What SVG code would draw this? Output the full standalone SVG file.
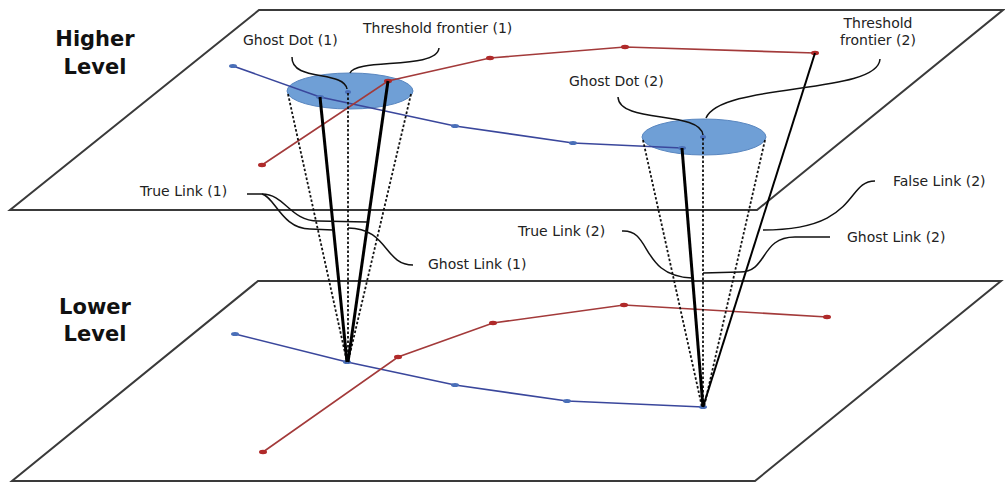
<svg xmlns="http://www.w3.org/2000/svg" width="1005" height="487" viewBox="0 0 1005 487">
<style>
.plane{fill:none;stroke:#3a3a3a;stroke-width:2;stroke-linejoin:miter}
.blue{fill:none;stroke:#3a479c;stroke-width:1.6}
.red{fill:none;stroke:#a33a3a;stroke-width:1.6}
.bdot{fill:#4a6fb8}
.rdot{fill:#b02a2a}
.thick{stroke:#000;stroke-width:3;fill:none}
.thin{stroke:#000;stroke-width:2;fill:none}
.dot{stroke:#111;stroke-width:1.8;stroke-dasharray:2.5 2;fill:none}
.lead{stroke:#111;stroke-width:1.5;fill:none}
.zone{fill:#6f9fd6;stroke:#5a87c0;stroke-width:1}
.lbl{font-family:"DejaVu Sans","Liberation Sans",sans-serif;font-size:14px;fill:#222}
.lvl{font-family:"DejaVu Sans","Liberation Sans",sans-serif;font-size:21px;font-weight:bold;fill:#111;text-anchor:middle}
</style>
<rect width="1005" height="487" fill="#fff"/>
<g id="higher-plane">
<polygon class="plane" points="259,10 1003,10 757,210 10,210"/>
<text class="lvl" x="95" y="46">Higher</text>
<text class="lvl" x="95" y="74">Level</text>
</g>
<g id="lower-plane">
<polygon class="plane" points="258,281 1001,281 755,481 12,481"/>
<text class="lvl" x="95" y="314">Lower</text>
<text class="lvl" x="95" y="341">Level</text>
</g>
<g id="threshold-1">
<ellipse class="zone" cx="350" cy="91" rx="63" ry="18"/>
</g>
<g id="threshold-2">
<ellipse class="zone" cx="704" cy="137" rx="62" ry="18"/>
</g>
<g id="higher-network">
<polyline class="blue" points="233,66 320,97 455,126 573,143 682,148"/>
<polyline class="red" points="262,165 388,81 490,58 625,47 815,53"/>
<ellipse class="bdot" cx="233" cy="66" rx="4" ry="2"/>
<ellipse class="bdot" cx="320" cy="97" rx="4" ry="2"/>
<ellipse class="bdot" cx="455" cy="126" rx="4" ry="2"/>
<ellipse class="bdot" cx="573" cy="143" rx="4" ry="2"/>
<ellipse class="bdot" cx="682" cy="148" rx="4" ry="2"/>
<ellipse class="rdot" cx="262" cy="165" rx="4" ry="2.2"/>
<ellipse class="rdot" cx="388" cy="81" rx="4" ry="2.2"/>
<ellipse class="rdot" cx="490" cy="58" rx="4" ry="2.2"/>
<ellipse class="rdot" cx="625" cy="47" rx="4" ry="2.2"/>
<ellipse class="rdot" cx="815" cy="53" rx="4" ry="2.2"/>
<ellipse class="bdot" cx="348" cy="92" rx="3" ry="2"/>
<ellipse class="bdot" cx="703" cy="137" rx="3" ry="2"/>
</g>
<g id="lower-network">
<polyline class="blue" points="235,334 347,362 455,385 567,401 703,407"/>
<polyline class="red" points="263,452 398,357 493,323 624,305 827,317"/>
<ellipse class="bdot" cx="235" cy="334" rx="4" ry="2"/>
<ellipse class="bdot" cx="347" cy="362" rx="4" ry="2"/>
<ellipse class="bdot" cx="455" cy="385" rx="4" ry="2"/>
<ellipse class="bdot" cx="567" cy="401" rx="4" ry="2"/>
<ellipse class="bdot" cx="703" cy="407" rx="4" ry="2"/>
<ellipse class="rdot" cx="263" cy="452" rx="4" ry="2.2"/>
<ellipse class="rdot" cx="398" cy="357" rx="4" ry="2.2"/>
<ellipse class="rdot" cx="493" cy="323" rx="4" ry="2.2"/>
<ellipse class="rdot" cx="624" cy="305" rx="4" ry="2.2"/>
<ellipse class="rdot" cx="827" cy="317" rx="4" ry="2.2"/>
</g>
<g id="connectors">
<line class="dot" x1="288" y1="94" x2="347" y2="362"/>
<line class="dot" x1="348" y1="93" x2="348" y2="362"/>
<line class="dot" x1="411" y1="94" x2="348" y2="362"/>
<line class="thick" x1="320" y1="97" x2="347" y2="362"/>
<line class="thick" x1="388" y1="81" x2="348" y2="362"/>
<line class="dot" x1="643" y1="140" x2="702" y2="407"/>
<line class="dot" x1="703" y1="138" x2="703" y2="407"/>
<line class="dot" x1="765" y1="140" x2="704" y2="407"/>
<line class="thick" x1="682" y1="148" x2="703" y2="407"/>
<line class="thin" x1="815" y1="53" x2="703" y2="407"/>
<path class="lead" d="M292,57 C291,82 344,70 347,89"/>
<path class="lead" d="M439,48 C437,70 356,58 350,73"/>
<path class="lead" d="M618,97 C619,124 700,110 703,135"/>
<path class="lead" d="M880,59 C878,95 722,82 706,118"/>
<path class="lead" d="M247,194 L262,194 C285,194 290,221 318,221 L367,222"/>
<path class="lead" d="M262,194 C275,197 282,229 310,229 L333,230"/>
<path class="lead" d="M413,265 C384,265 388,228 348,228"/>
<path class="lead" d="M622,231 C652,229 640,276 692,278"/>
<path class="lead" d="M830,237 L795,237 C760,237 768,272 740,272 L703,273"/>
<path class="lead" d="M875,181 C845,181 860,230 763,230"/>
</g>
<g id="labels">
<text class="lbl" x="243" y="45">Ghost Dot (1)</text>
<text class="lbl" x="363" y="33">Threshold frontier (1)</text>
<text class="lbl" x="569" y="86">Ghost Dot (2)</text>
<text class="lbl" x="878" y="28" text-anchor="middle">Threshold</text>
<text class="lbl" x="878" y="45" text-anchor="middle">frontier (2)</text>
<text class="lbl" x="140" y="196">True Link (1)</text>
<text class="lbl" x="428" y="269">Ghost Link (1)</text>
<text class="lbl" x="518" y="236">True Link (2)</text>
<text class="lbl" x="847" y="242">Ghost Link (2)</text>
<text class="lbl" x="893" y="186">False Link (2)</text>
</g>
</svg>
